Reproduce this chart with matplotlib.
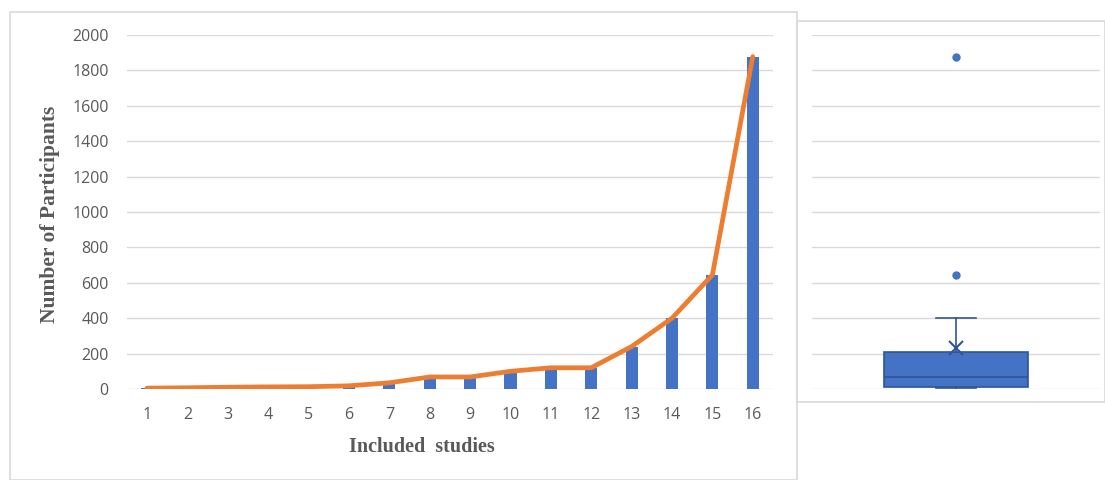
import numpy as np
import matplotlib.pyplot as plt
from matplotlib.patches import Rectangle

# participants per included study (sorted, as in the chart)
studies = list(range(1, 17))
participants = [5, 7, 10, 12, 13, 18, 35, 68, 68, 100, 120, 120, 240, 400, 645, 1878]
y_ticks = [0, 200, 400, 600, 800, 1000, 1200, 1400, 1600, 1800, 2000]

BLUE = '#4472C4'
DARK = '#2F5597'
ORANGE = '#ED7D31'
GRID = '#d9d9d9'
TXT = '#595959'

fig = plt.figure(figsize=(11.05, 4.8), dpi=100)
fig.patch.set_facecolor('white')

# chart frames (Excel-like)
fig.patches.append(Rectangle((10 / 1105, 0), 787 / 1105, 1 - 12 / 480,
                             transform=fig.transFigure, fill=False,
                             edgecolor=GRID, lw=1.2))
fig.patches.append(Rectangle((797 / 1105, 1 - 402 / 480), 308 / 1105, (402 - 21) / 480,
                             transform=fig.transFigure, fill=False,
                             edgecolor=GRID, lw=1.2))

# left: bars + line
ax = fig.add_axes([126.8 / 1105, 1 - 389 / 480, 646.2 / 1105, 354 / 480])
ax.bar(studies, participants, width=0.3, color=BLUE, zorder=2)
ax.plot(studies, participants, color=ORANGE, lw=3.4, zorder=3, solid_capstyle='round')
ax.set_xlim(0.5, 16.5)
ax.set_ylim(0, 2000)
ax.set_xticks(studies)
ax.set_yticks(y_ticks)
ax.yaxis.grid(True, color=GRID, lw=1, zorder=0)
ax.set_axisbelow(True)
for s in ax.spines.values():
    s.set_visible(False)
ax.tick_params(length=0, colors=TXT, labelsize=11.5)
ax.tick_params(axis='y', pad=13)
ax.tick_params(axis='x', pad=13)
for lab in ax.get_xticklabels() + ax.get_yticklabels():
    lab.set_fontfamily('Open Sans')

fig.text(50 / 1105, 1 - 214 / 480, 'Number of Participants', rotation=90,
         ha='center', va='center', family='Liberation Serif', weight='bold',
         fontsize=15.5, color=TXT)
fig.text(422 / 1105, 1 - 447 / 480, 'Included  studies', ha='center', va='center',
         family='Liberation Serif', weight='bold', fontsize=14.5, color=TXT)

# right: box plot (exclusive quartiles, like Excel)
vals = np.array(participants, dtype=float)
q1, med, q3 = np.percentile(vals, [25, 50, 75], method='weibull')
iqr = q3 - q1
inside = vals[(vals >= q1 - 1.5 * iqr) & (vals <= q3 + 1.5 * iqr)]
stats = [dict(med=med, q1=q1, q3=q3, whislo=inside.min(), whishi=inside.max(),
              mean=vals.mean(),
              fliers=vals[(vals < q1 - 1.5 * iqr) | (vals > q3 + 1.5 * iqr)])]

ax2 = fig.add_axes([812 / 1105, 1 - 389 / 480, 288 / 1105, 354 / 480])
ax2.bxp(stats, positions=[1], widths=0.5, capwidths=0.14, showmeans=True,
        patch_artist=True,
        boxprops=dict(facecolor=BLUE, edgecolor=DARK, lw=1.2),
        medianprops=dict(color=DARK, lw=1.2),
        whiskerprops=dict(color=DARK, lw=1.2),
        capprops=dict(color=DARK, lw=1.2),
        meanprops=dict(marker='x', markeredgecolor=DARK, markersize=10, markeredgewidth=1.5),
        flierprops=dict(marker='o', markerfacecolor=BLUE, markeredgecolor=BLUE, markersize=5))
ax2.set_xlim(0.5, 1.5)
ax2.set_ylim(0, 2000)
ax2.set_yticks(y_ticks)
ax2.set_xticks([])
ax2.yaxis.grid(True, color=GRID, lw=1, zorder=0)
ax2.set_axisbelow(True)
ax2.tick_params(length=0, labelleft=False)
for s in ax2.spines.values():
    s.set_visible(False)

fig.savefig('out.png', dpi=100, facecolor='white')
